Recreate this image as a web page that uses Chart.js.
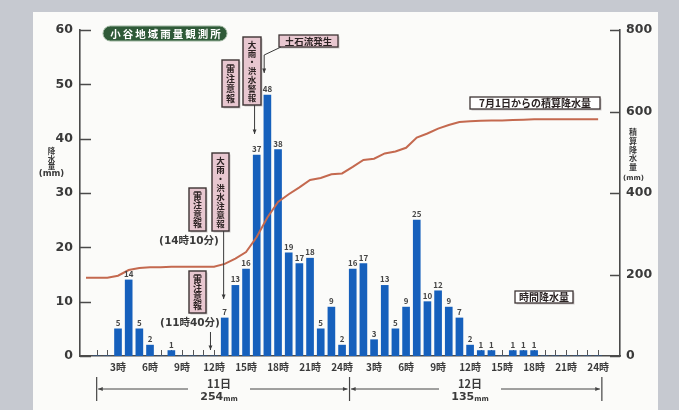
<!DOCTYPE html>
<html>
<head>
<meta charset="utf-8">
<script src="https://cdn.jsdelivr.net/npm/chart.js@4.4.1/dist/chart.umd.min.js"></script>
<style>
  html, body { margin: 0; padding: 0; background: #c6c9d0; }
  #wrap { width: 679px; height: 410px; }
</style>
</head>
<body>
<div id="wrap"><canvas id="rain" width="679" height="410"></canvas></div>
<script>
// hourly rainfall (mm), hours 1..48 (11日 1時 .. 12日 24時)
const hourlyRain = [
  0, 0, 5, 14, 5, 2, 0, 1, 0, 0, 0, 0,
  7, 13, 16, 37, 48, 38, 19, 17, 18, 5, 9, 2,
  16, 17, 3, 13, 5, 9, 25, 10, 12, 9, 7, 2,
  1, 1, 0, 1, 1, 1, 0, 0, 0, 0, 0, 0
];
// cumulative rainfall since 7/1 (mm), hours 0..48
const cumulativeRain = [
  192, 192, 192, 197, 211, 216, 218, 218, 219, 219, 219, 219, 219,
  226, 239, 255, 292, 340, 378, 397, 414, 432, 437, 446, 448,
  464, 481, 484, 497, 502, 511, 536, 546, 558, 567, 574, 576,
  577, 578, 578, 579, 580, 581, 581, 581, 581, 581, 581, 581
];
// x tick positions (hour index) and their labels
const tickHours = [3, 6, 9, 12, 15, 18, 21, 24, 27, 30, 33, 36, 39, 42, 45, 48];
const tickLabels = ["3時","6時","9時","12時","15時","18時","21時","24時","3時","6時","9時","12時","15時","18時","21時","24時"];
const leftTicks = [0, 10, 20, 30, 40, 50, 60];
const rightTicks = [0, 200, 400, 600, 800];
const days = [["11日", "254"], ["12日", "135"]];

const JP = '"Noto Sans CJK JP", "Noto Sans", sans-serif';
const NUM = '"DejaVu Sans", "Noto Sans CJK JP", sans-serif';
const INK = "#3a3a3a";

function arrow(ctx, pts, head) {
  ctx.beginPath();
  ctx.moveTo(pts[0][0], pts[0][1]);
  for (let i = 1; i < pts.length; i++) ctx.lineTo(pts[i][0], pts[i][1]);
  ctx.stroke();
  const [x2, y2] = pts[pts.length - 1];
  const [x1, y1] = pts[pts.length - 2];
  const a = Math.atan2(y2 - y1, x2 - x1);
  const s = head || 5;
  ctx.beginPath();
  ctx.moveTo(x2, y2);
  ctx.lineTo(x2 - s * Math.cos(a - 0.4), y2 - s * Math.sin(a - 0.4));
  ctx.lineTo(x2 - s * Math.cos(a + 0.4), y2 - s * Math.sin(a + 0.4));
  ctx.closePath();
  ctx.fill();
}

function vbox(ctx, x, y, w, h, text, fs) {
  ctx.fillStyle = "rgba(120,110,110,0.35)";
  ctx.fillRect(x + 1.5, y + 1.5, w, h);
  ctx.fillStyle = "#e8c7d0";
  ctx.fillRect(x, y, w, h);
  ctx.strokeStyle = "#3d3434";
  ctx.lineWidth = 1.4;
  ctx.strokeRect(x, y, w, h);
  const chars = [...text];
  const step = (h - 6) / chars.length;
  ctx.fillStyle = "#2e2424";
  ctx.font = "bold " + fs + "px " + JP;
  ctx.textAlign = "center";
  ctx.textBaseline = "middle";
  chars.forEach((c, i) => ctx.fillText(c, x + w / 2, y + 3 + step * (i + 0.5)));
}

function hbox(ctx, x, y, w, h, text, fs, fill) {
  ctx.fillStyle = "rgba(120,110,110,0.35)";
  ctx.fillRect(x + 1.5, y + 1.5, w, h);
  ctx.fillStyle = fill;
  ctx.fillRect(x, y, w, h);
  ctx.strokeStyle = "#3d3434";
  ctx.lineWidth = 1.3;
  ctx.strokeRect(x, y, w, h);
  ctx.fillStyle = "#2a2222";
  ctx.font = "bold " + fs + "px " + JP;
  ctx.textAlign = "center";
  ctx.textBaseline = "middle";
  ctx.fillText(text, x + w / 2, y + h / 2 + 0.5);
}

function stack(ctx, x, y, step, text, fs) {
  ctx.font = "bold " + fs + "px " + JP;
  ctx.textAlign = "center";
  ctx.textBaseline = "middle";
  [...text].forEach((c, i) => ctx.fillText(c, x, y + i * step));
}

const decor = {
  id: "decor",
  beforeDraw(chart) {
    const c = chart.ctx;
    c.save();
    c.fillStyle = "#c6c9d0";
    c.fillRect(0, 0, chart.width, chart.height);
    c.fillStyle = "#fbfbf9";
    c.fillRect(33, 12, 625, 400);
    c.restore();
  },
  beforeDatasetsDraw(chart) {
    // small hour ticks standing on the baseline
    const { ctx, chartArea, scales: { x } } = chart;
    ctx.save();
    ctx.strokeStyle = "#555";
    ctx.lineWidth = 1;
    for (let h = 1; h <= 48; h++) {
      const px = Math.round(x.getPixelForValue(h)) + 0.5;
      ctx.beginPath();
      ctx.moveTo(px, chartArea.bottom);
      ctx.lineTo(px, chartArea.bottom - 6);
      ctx.stroke();
    }
    ctx.restore();
  },
  afterDatasetsDraw(chart) {
    // value labels above bars
    const ctx = chart.ctx;
    const meta = chart.getDatasetMeta(1);
    ctx.save();
    ctx.fillStyle = "#454545";
    ctx.font = "bold 8px " + JP;
    ctx.textAlign = "center";
    ctx.textBaseline = "bottom";
    meta.data.forEach((el, i) => {
      const v = hourlyRain[i];
      if (v > 0) ctx.fillText(String(v), el.x, el.y - 2);
    });
    ctx.restore();
  },
  afterDraw(chart) {
    const { ctx, chartArea, scales: { x, y, y1 } } = chart;
    ctx.save();
    // inward ticks
    ctx.strokeStyle = "#4a4a4a";
    ctx.lineWidth = 1.5;
    leftTicks.forEach(v => {
      const py = Math.round(y.getPixelForValue(v)) + 0.5;
      ctx.beginPath(); ctx.moveTo(chartArea.left, py); ctx.lineTo(chartArea.left + 11, py); ctx.stroke();
    });
    rightTicks.forEach(v => {
      const py = Math.round(y1.getPixelForValue(v)) + 0.5;
      ctx.beginPath(); ctx.moveTo(chartArea.right - 10, py); ctx.lineTo(chartArea.right, py); ctx.stroke();
    });

    // axis titles
    ctx.fillStyle = INK;
    stack(ctx, 51.5, 151.5, 7.3, "降水量", 7.5);
    ctx.font = "bold 8.5px " + NUM;
    ctx.fillText("(mm)", 51.5, 173.5);
    stack(ctx, 633, 132, 8.8, "積算降水量", 8);
    ctx.font = "bold 7px " + NUM;
    ctx.fillText("(mm)", 633.5, 178);

    // station badge
    ctx.fillStyle = "#2f5a38";
    ctx.strokeStyle = "#9db59f";
    ctx.lineWidth = 1;
    ctx.beginPath();
    ctx.roundRect(103, 26, 124, 15, 7.5);
    ctx.fill(); ctx.stroke();
    ctx.fillStyle = "#ffffff";
    ctx.font = "bold 10.5px " + JP;
    ctx.textAlign = "center";
    ctx.textBaseline = "middle";
    [..."小谷地域雨量観測所"].forEach((c, i) => ctx.fillText(c, 115.5 + i * 12.5, 34));

    // series labels
    hbox(ctx, 470, 97, 130, 12, "7月1日からの積算降水量", 10, "#ffffff");
    hbox(ctx, 515, 291, 58, 12, "時間降水量", 10, "#ffffff");

    // warnings
    ctx.strokeStyle = "#3a3a3a";
    ctx.fillStyle = "#3a3a3a";
    ctx.lineWidth = 1;
    vbox(ctx, 222, 60, 17, 47, "雷注意報", 9);
    vbox(ctx, 243, 37, 18, 68, "大雨・洪水警報", 8.5);
    hbox(ctx, 279, 35, 59, 12, "土石流発生", 9.5, "#e8c7d0");
    vbox(ctx, 212, 153, 17, 78, "大雨・洪水注意報", 8.5);
    vbox(ctx, 189, 188, 17, 43, "雷注意報", 9);
    vbox(ctx, 189, 271, 17, 42, "雷注意報", 9);

    ctx.strokeStyle = "#3a3a3a";
    ctx.fillStyle = "#3a3a3a";
    ctx.lineWidth = 1;
    const px16 = x.getPixelForValue(15.8);
    arrow(ctx, [[px16, 105], [px16, 134]], 5);
    const px17 = x.getPixelForValue(16.7);
    arrow(ctx, [[281, 47], [px17, 55], [px17, 73]], 5);
    const px13 = x.getPixelForValue(12.9);
    arrow(ctx, [[px13, 231], [px13, 299]], 5);
    const px1140 = x.getPixelForValue(11 + 40 / 60);
    arrow(ctx, [[px1140, 332], [px1140, 350]], 5);

    ctx.fillStyle = INK;
    ctx.font = "bold 10.5px " + NUM;
    ctx.textAlign = "center";
    ctx.textBaseline = "middle";
    ctx.fillText("(14時10分)", 189, 241);
    ctx.fillText("(11時40分)", 190, 323);

    // day brackets
    const xl = x.getPixelForValue(1);
    const xm = x.getPixelForValue(24.7);
    const xr = x.getPixelForValue(48.35);
    ctx.strokeStyle = "#444";
    ctx.fillStyle = "#444";
    ctx.lineWidth = 1.2;
    [xl, xm, xr].forEach(px => {
      ctx.beginPath(); ctx.moveTo(px, 377); ctx.lineTo(px, 401); ctx.stroke();
    });
    const spans = [[xl, xm, 219], [xm, xr, 470]];
    spans.forEach((s, i) => {
      const [a, b, c] = s;
      ctx.lineWidth = 1;
      arrow(ctx, [[c - 31, 389], [a + 1.5, 389]], 5);
      arrow(ctx, [[c + 31, 389], [b - 2, 389]], 5);
      ctx.fillStyle = INK;
      ctx.font = "bold 11px " + JP;
      ctx.textAlign = "center";
      ctx.fillText(days[i][0], c, 384);
      ctx.font = "bold 11px " + NUM;
      const w1 = ctx.measureText(days[i][1]).width;
      ctx.font = "bold 7px " + NUM;
      const w2 = ctx.measureText("mm").width;
      const x0 = c - (w1 + w2) / 2;
      ctx.textAlign = "left";
      ctx.font = "bold 11px " + NUM;
      ctx.fillText(days[i][1], x0, 397);
      ctx.font = "bold 7px " + NUM;
      ctx.fillText("mm", x0 + w1, 399);
      ctx.fillStyle = "#444";
    });
    ctx.restore();
  }
};

new Chart(document.getElementById("rain"), {
  type: "bar",
  data: {
    datasets: [
      {
        type: "line",
        label: "7月1日からの積算降水量",
        data: cumulativeRain.map((v, h) => ({ x: h, y: v })),
        yAxisID: "y1",
        borderColor: "#c4694f",
        borderWidth: 2,
        pointRadius: 0,
        tension: 0,
        order: 0
      },
      {
        type: "bar",
        label: "時間降水量",
        data: hourlyRain.map((v, i) => ({ x: i + 1, y: v })),
        yAxisID: "y",
        backgroundColor: "#1660bc",
        barThickness: 7,
        order: 1
      }
    ]
  },
  options: {
    responsive: false,
    animation: false,
    layout: { padding: { top: 30, left: 0, right: 0, bottom: 0 } },
    plugins: { legend: { display: false }, tooltip: { enabled: false } },
    scales: {
      x: {
        type: "linear",
        min: -0.5625,
        max: 50.05,
        offset: false,
        grid: { display: false, drawTicks: false },
        border: { display: true, color: "#4a4a4a", width: 1.6 },
        afterBuildTicks: s => { s.ticks = tickHours.map(v => ({ value: v })); },
        afterFit: s => { s.height = 54; },
        ticks: {
          autoSkip: false,
          maxRotation: 0,
          padding: 5,
          color: INK,
          font: { family: JP, size: 10, weight: "bold" },
          callback: v => tickLabels[tickHours.indexOf(v)] || ""
        }
      },
      y: {
        position: "left",
        min: 0,
        max: 60,
        grid: { display: false, drawTicks: false },
        border: { display: true, color: "#4a4a4a", width: 1.6 },
        afterBuildTicks: s => { s.ticks = leftTicks.map(v => ({ value: v })); },
        afterFit: s => { s.width = 80; },
        ticks: { padding: 7, color: INK, font: { family: NUM, size: 12.5, weight: "bold" } }
      },
      y1: {
        position: "right",
        min: 0,
        max: 800,
        grid: { display: false, drawTicks: false },
        border: { display: true, color: "#4a4a4a", width: 1.6 },
        afterBuildTicks: s => { s.ticks = rightTicks.map(v => ({ value: v })); },
        afterFit: s => { s.width = 59; },
        ticks: { padding: 6, color: INK, font: { family: NUM, size: 12.5, weight: "bold" } }
      }
    }
  },
  plugins: [decor]
});
</script>
</body>
</html>
